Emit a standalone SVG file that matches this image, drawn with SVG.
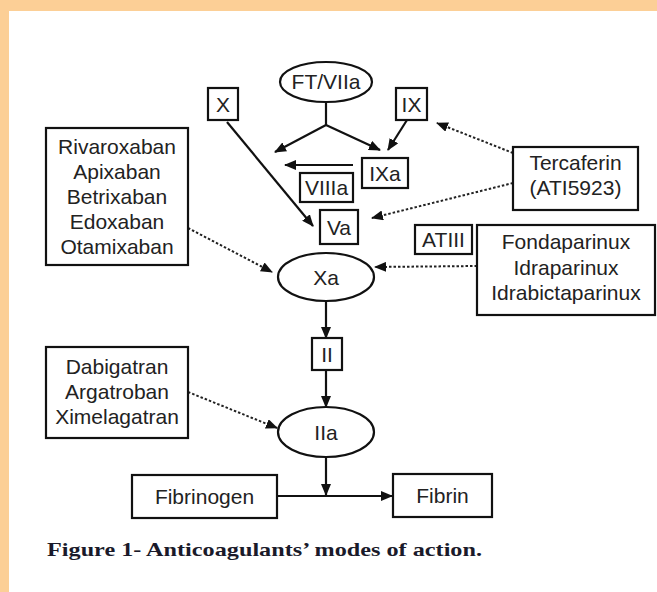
<svg xmlns="http://www.w3.org/2000/svg" width="657" height="592" viewBox="0 0 657 592">
<defs>
<marker id="ah" markerUnits="userSpaceOnUse" markerWidth="12" markerHeight="10" refX="11" refY="5" orient="auto">
<path d="M0,0 L12,5 L0,10 z" fill="#111"/>
</marker>
</defs>
<style>
.t{font-family:"Liberation Sans",Arial,sans-serif;font-size:21px;fill:#222;text-anchor:middle}
.box{fill:#fff;stroke:#111;stroke-width:2.2}
.sh{fill:#333}
.ln{stroke:#111;stroke-width:2.2;fill:none}
.dt{stroke:#222;stroke-width:2;stroke-dasharray:2.5 2;fill:none}
.cap{font-family:"Liberation Serif","Times New Roman",serif;font-size:19px;font-weight:bold;fill:#1a1a2a}
</style>
<rect x="0" y="0" width="657" height="592" fill="#fff"/>
<rect x="0" y="0" width="657" height="11" fill="#FCCF96"/>
<rect x="0" y="0" width="9" height="592" fill="#FCCF96"/>

<g id="connectors">
<line class="ln" x1="326" y1="102" x2="326" y2="125"/>
<line class="ln" x1="326" y1="125" x2="275" y2="152" marker-end="url(#ah)"/>
<line class="ln" x1="326" y1="125" x2="380" y2="150" marker-end="url(#ah)"/>
<line class="ln" x1="407" y1="120" x2="388" y2="150" marker-end="url(#ah)"/>
<line class="ln" x1="353" y1="165" x2="285" y2="165" marker-end="url(#ah)"/>
<line class="ln" x1="227" y1="122" x2="313" y2="226" marker-end="url(#ah)"/>
<line class="ln" x1="326" y1="302" x2="326" y2="338" marker-end="url(#ah)"/>
<line class="ln" x1="326" y1="370" x2="326" y2="407" marker-end="url(#ah)"/>
<line class="ln" x1="326" y1="457" x2="326" y2="495" marker-end="url(#ah)"/>
<line class="ln" x1="277" y1="496" x2="392" y2="496" marker-end="url(#ah)"/>
<line class="dt" x1="513" y1="153" x2="437" y2="123" marker-end="url(#ah)"/>
<line class="dt" x1="513" y1="183" x2="372" y2="218" marker-end="url(#ah)"/>
<line class="dt" x1="477" y1="266" x2="375" y2="267" marker-end="url(#ah)"/>
<line class="dt" x1="188" y1="228" x2="272" y2="272" marker-end="url(#ah)"/>
<line class="dt" x1="188" y1="392" x2="277" y2="428" marker-end="url(#ah)"/>
</g>

<g id="ftviia">
<ellipse class="box" cx="326" cy="82" rx="46" ry="20"/>
<text class="t" x="326" y="89">FT/VIIa</text>
</g>
<g id="x">
<rect class="box" x="208" y="88" width="30" height="32"/>
<text class="t" x="223" y="112">X</text>
</g>
<g id="ix">
<rect class="box" x="396" y="88" width="31" height="32"/>
<text class="t" x="411.5" y="112">IX</text>
</g>
<g id="ixa">
<rect class="box" x="362" y="158" width="46" height="30"/>
<text class="t" x="385" y="181">IXa</text>
</g>
<g id="viiia">
<rect class="box" x="300" y="173" width="53" height="29"/>
<text class="t" x="326.5" y="195">VIIIa</text>
</g>
<g id="va">
<rect class="box" x="320" y="210" width="38" height="34"/>
<text class="t" x="339" y="235">Va</text>
</g>
<g id="tercaferin">
<rect class="box" x="513" y="147" width="125" height="63"/>
<text class="t" x="575.5" y="170">Tercaferin</text>
<text class="t" x="575.5" y="195">(ATI5923)</text>
</g>
<g id="atiii">
<rect class="box" x="415" y="225" width="57" height="29"/>
<text class="t" x="443.5" y="247">ATIII</text>
</g>
<g id="fondaparinux">
<rect class="box" x="477" y="225" width="178" height="90"/>
<text class="t" x="566" y="249">Fondaparinux</text>
<text class="t" x="566" y="275">Idraparinux</text>
<text class="t" x="566" y="300">Idrabictaparinux</text>
</g>
<g id="rivaroxaban">
<rect class="box" x="46" y="128" width="142" height="137"/>
<text class="t" x="117" y="154">Rivaroxaban</text>
<text class="t" x="117" y="179">Apixaban</text>
<text class="t" x="117" y="204">Betrixaban</text>
<text class="t" x="117" y="229">Edoxaban</text>
<text class="t" x="117" y="254">Otamixaban</text>
</g>
<g id="xa">
<ellipse class="box" cx="326" cy="277" rx="48" ry="24"/>
<text class="t" x="326" y="285">Xa</text>
</g>
<g id="ii">
<rect class="box" x="312" y="338" width="30" height="32"/>
<text class="t" x="327" y="362">II</text>
</g>
<g id="dabigatran">
<rect class="box" x="46" y="347" width="142" height="91"/>
<text class="t" x="117" y="374">Dabigatran</text>
<text class="t" x="117" y="399">Argatroban</text>
<text class="t" x="117" y="424">Ximelagatran</text>
</g>
<g id="iia">
<ellipse class="box" cx="326" cy="432" rx="48" ry="25"/>
<text class="t" x="326" y="440">IIa</text>
</g>
<g id="fibrinogen">
<rect class="box" x="132" y="475" width="145" height="43"/>
<text class="t" x="204.5" y="504">Fibrinogen</text>
</g>
<g id="fibrin">
<rect class="box" x="393" y="474" width="99" height="43"/>
<text class="t" x="442.5" y="503">Fibrin</text>
</g>
<text class="cap" x="47" y="556" textLength="435" lengthAdjust="spacingAndGlyphs">Figure 1- Anticoagulants’ modes of action.</text>
</svg>
